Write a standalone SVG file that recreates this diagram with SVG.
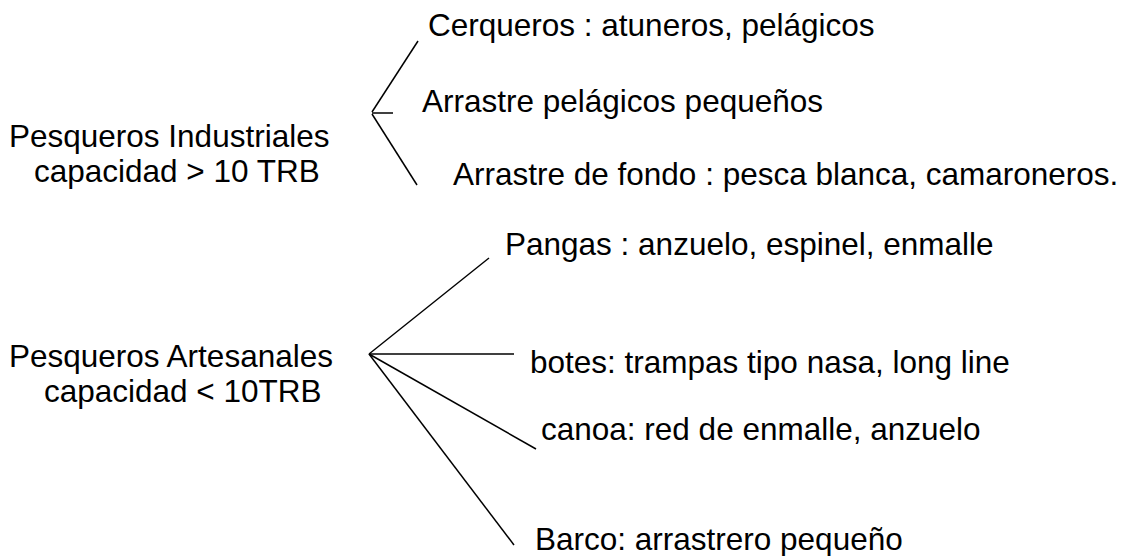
<svg xmlns="http://www.w3.org/2000/svg" width="1128" height="556" viewBox="0 0 1128 556">
<style>
text{font-family:"Liberation Sans",Arial,sans-serif;font-size:31.5px;fill:#000}
line{stroke:#000;stroke-width:1.5;fill:none}
</style>
<rect width="1128" height="556" fill="#fff"/>
<g id="industriales"><text x="9" y="147">Pesqueros Industriales</text><text x="34" y="182">capacidad &gt; 10 TRB</text></g>
<g id="cerqueros"><text x="428" y="36">Cerqueros : atuneros, pelágicos</text></g>
<g id="arrastre-pelagicos"><text x="422" y="112">Arrastre pelágicos pequeños</text></g>
<g id="arrastre-fondo"><text x="453" y="185">Arrastre de fondo : pesca blanca, camaroneros.</text></g>
<g id="artesanales"><text x="9" y="367">Pesqueros Artesanales</text><text x="44" y="402">capacidad &lt; 10TRB</text></g>
<g id="pangas"><text x="505" y="255">Pangas : anzuelo, espinel, enmalle</text></g>
<g id="botes"><text x="530" y="373">botes: trampas tipo nasa, long line</text></g>
<g id="canoa"><text x="541" y="440">canoa: red de enmalle, anzuelo</text></g>
<g id="barco"><text x="535" y="550">Barco: arrastrero pequeño</text></g>
<g id="connectors">
<line x1="372" y1="112" x2="418" y2="41"/>
<line x1="372" y1="113" x2="393" y2="113"/>
<line x1="372" y1="114" x2="417" y2="185"/>
<line x1="369" y1="354" x2="489" y2="258"/>
<line x1="369" y1="354" x2="514" y2="354"/>
<line x1="369" y1="354" x2="536" y2="449"/>
<line x1="369" y1="354" x2="514" y2="545"/>
</g>
</svg>
